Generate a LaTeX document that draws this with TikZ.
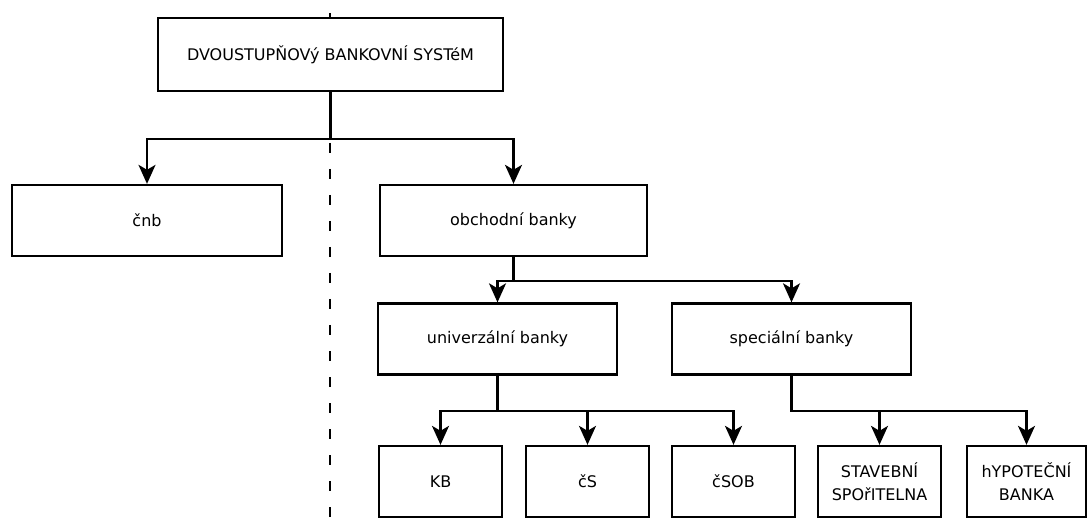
\documentclass[tikz,border=0pt]{standalone}
\usepackage{fontspec}
\setmainfont{DejaVu Sans}
\usetikzlibrary{arrows.meta, positioning}

\tikzset{
    box/.style={draw, line width=2.3pt, fill=white, inner sep=0pt,
        minimum height=71pt, align=center,
        font=\fontsize{16}{23}\selectfont},
    link/.style={line width=2.3pt, -{Stealth[length=19pt, width=17pt, inset=5pt]}},
    divider/.style={line width=2.3pt, dash pattern=on 10pt off 16pt}
}

\begin{document}
\begin{tikzpicture}[x=1pt, y=-1pt]
	\useasboundingbox (0,0) rectangle (1087,521);
	
	% dividing line
	\coordinate (T) at (330, 13);
	\coordinate (U) at (330, 521);
	\draw[divider] (T) -- (U);
	
	\node[box, minimum width=345pt, minimum height=73pt] (sys) at (330.5, 54.5) {DVOUSTUPŇOVý BANKOVNÍ SYSTéM};
	
	\node[box, minimum width=270pt] (cnb) at (147, 220.5) {čnb};
	\node[box, minimum width=267pt] (obch) at (513.5, 220.5) {obchodní banky};
	
	\node[box, minimum width=239pt] (univ) at (497.5, 339) {univerzální banky};
	\node[box, minimum width=239pt] (spec) at (791.5, 339) {speciální banky};
	
	\foreach \nm/\cx/\txt in {kb/440.5/KB, cs/587.5/čS, csob/733.5/čSOB}{
		\node[box, minimum width=123pt] (\nm) at (\cx, 481.5) {\txt};
	}
	\node[box, minimum width=123pt] (stav) at (879.5, 481.5) {STAVEBNÍ\\SPOřITELNA};
	\node[box, minimum width=119pt] (hypo) at (1026.5, 481.5) {hYPOTEČNÍ\\BANKA};
	
	% connectors
	\foreach \kid in {cnb, obch}{
		\draw[link] (sys.south) -- ++(0, 47) -| (\kid.north);
	}
	\foreach \kid in {univ, spec}{
		\draw[link] (obch.south) -- ++(0, 24) -| (\kid.north);
	}
	\foreach \kid in {kb, cs, csob}{
		\draw[link] (univ.south) -- ++(0, 35.5) -| (\kid.north);
	}
	\foreach \kid in {stav, hypo}{
		\draw[link] (spec.south) -- ++(0, 35.5) -| (\kid.north);
	}
\end{tikzpicture}
\end{document}
